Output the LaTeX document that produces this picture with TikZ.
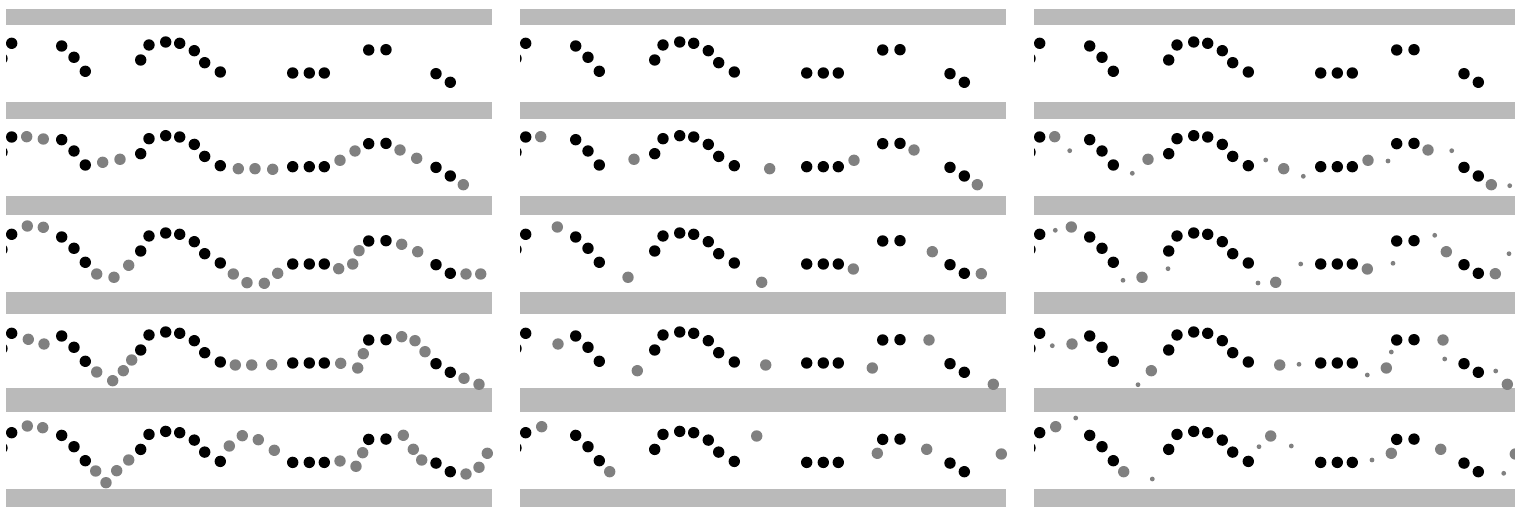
\documentclass[tikz,border=0pt]{standalone}
\usepackage{tikz}

% sampled points, first strip (x in panel frame, y in picture frame)
\newcommand\samplepts{11.7/43.3, 61.7/46, 74/57.3, 85.3/71.3, 140.7/60, 149/45,
  165.7/42, 179.7/43.3, 194.3/50.7, 204.7/62.7, 220.3/72, 292.7/73, 309.3/73,
  324.3/73, 368.7/50, 386/49.7, 436/73.7, 450.3/82.3}
% filled-in points, left panel
\newcommand\densepts{26.7/136.7, 43.3/139, 102.7/162.3, 120/159.3, 238.3/168.7,
  255/168.7, 272.7/169.3, 340/160.3, 355/151, 400/150, 416.7/158.3, 463.3/184.7,
  27.3/226, 43.3/227.3, 96.7/274, 114/277.3, 128.7/265.3, 233.3/274, 247/282.7,
  264.3/283.3, 277.7/273.3, 338.7/268.7, 352.7/264, 359/250.7, 401.7/244.3,
  417.7/251.7, 466/274, 480.7/274,
  28.3/339.3, 44/344, 96.7/372, 112.7/380.7, 123.3/370.7, 131.7/360, 235.3/365,
  251.7/365, 271.7/364.7, 340.7/363.3, 357.7/368, 363.3/353.7, 401.7/336.7,
  415/340.7, 425/351.7, 464/378.3, 479/384.3,
  27.3/426, 42.7/427.7, 95.7/471, 106/482.7, 116.7/470.7, 128.7/460, 229.3/446,
  242.3/435.7, 258.3/439.7, 274.3/450.3, 340/461, 356/466.3, 362.7/452.7,
  403.3/435.3, 413.3/449.3, 421.7/460, 466/474, 479/467.3, 487.3/453.3}
% filled-in points, middle and right panel
\newcommand\sparsepts{26.7/136.7, 120/159.3, 255.7/168.7, 340/160.3, 400/150,
  463.3/184.7,
  43.3/227, 114/277.3, 247.7/282.3, 339.3/269, 418.3/251.7, 467.3/273.7,
  44/344, 123.3/370.7, 251.7/365, 358.3/368, 415/340, 479.3/384.3,
  27.7/426.7, 95.7/471.7, 242.7/436, 363.3/453.3, 412.7/449.3, 487.3/454}
% small points, right panel
\newcommand\tinypts{41.7/150.7, 104.3/173.3, 237.7/160, 275.3/176.3, 360/161,
  423.7/150.7, 481.7/185.7,
  27.3/230.3, 95/280.3, 140/268.7, 230/283, 272.7/264, 365/263.3, 406.7/235.3,
  481/253.7,
  24.3/345.7, 110/384.7, 271/364.3, 339.3/375, 363.3/352, 416.7/359, 467.7/371,
  47.7/418, 124.3/479, 231/446.7, 263.3/446, 344/460, 475.7/473.3}

\begin{document}
\begin{tikzpicture}[x=0.5pt, y=-0.5pt,
    bar/.style={fill=black!27},
    pt/.style={fill=black},
    ipt/.style={fill=black!50}
]
\useasboundingbox (0,0) rectangle (1515,507);
\clip (0,0) rectangle (1515,507);

\foreach \px in {0,514,1028} {
  \begin{scope}[shift={(\px,0)}]
    \clip (6,0) rectangle (492,507);
    \foreach \t/\b in {9/25, 102/119, 196/215, 292/314, 388/412, 489/507}
      \fill[bar] (6,\t) rectangle (492,\b);
    \foreach \s in {0, 93.7, 191, 290, 389.4} {
      \foreach \x/\y in \samplepts
        \fill[pt] (\x,\y+\s) circle[radius=5.7];
      \fill[pt] (2,58.5+\s) circle[radius=5.7];
    }
  \end{scope}
}

\foreach \x/\y in \densepts
  \fill[ipt] (\x,\y) circle[radius=5.7];

\foreach \px in {514,1028}
  \foreach \x/\y in \sparsepts
    \fill[ipt] (\x+\px,\y) circle[radius=5.7];

\foreach \x/\y in \tinypts
  \fill[ipt] (\x+1028,\y) circle[radius=2.4];
\end{tikzpicture}
\end{document}
